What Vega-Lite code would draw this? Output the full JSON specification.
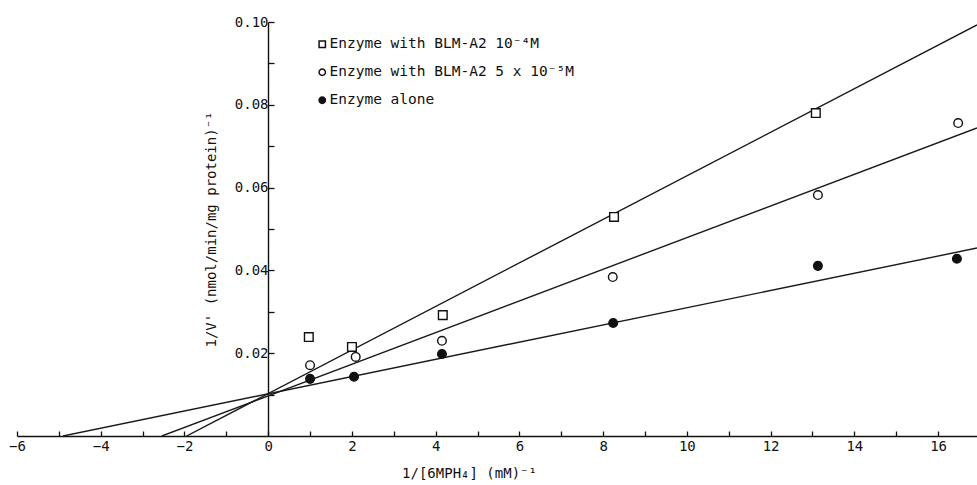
{
  "$schema": "https://vega.github.io/schema/vega-lite/v6.json",
  "width": 960,
  "height": 414,
  "autosize": "none",
  "padding": {"left": 17, "top": 22, "right": 0, "bottom": 49},
  "background": "white",
  "config": {
    "view": {"stroke": null},
    "font": "DejaVu Sans Mono",
    "axis": {"grid": false, "domainColor": "#111", "tickColor": "#111", "labelColor": "#111", "titleColor": "#111", "labelFont": "DejaVu Sans Mono", "titleFont": "DejaVu Sans Mono", "labelFontSize": 14, "titleFontSize": 14, "titleFontWeight": "normal", "domainWidth": 1.4, "tickWidth": 1.3}
  },
  "datasets": {
    "points": [
      {"x": 0.97, "y": 0.0239, "series": "Enzyme with BLM-A2 10⁻⁴M"},
      {"x": 2.0, "y": 0.0215, "series": "Enzyme with BLM-A2 10⁻⁴M"},
      {"x": 4.17, "y": 0.0292, "series": "Enzyme with BLM-A2 10⁻⁴M"},
      {"x": 8.26, "y": 0.0529, "series": "Enzyme with BLM-A2 10⁻⁴M"},
      {"x": 13.08, "y": 0.078, "series": "Enzyme with BLM-A2 10⁻⁴M"},
      {"x": 1.0, "y": 0.0171, "series": "Enzyme with BLM-A2 5 x 10⁻⁵M"},
      {"x": 2.09, "y": 0.0191, "series": "Enzyme with BLM-A2 5 x 10⁻⁵M"},
      {"x": 4.15, "y": 0.023, "series": "Enzyme with BLM-A2 5 x 10⁻⁵M"},
      {"x": 8.23, "y": 0.0384, "series": "Enzyme with BLM-A2 5 x 10⁻⁵M"},
      {"x": 13.13, "y": 0.0582, "series": "Enzyme with BLM-A2 5 x 10⁻⁵M"},
      {"x": 16.48, "y": 0.0756, "series": "Enzyme with BLM-A2 5 x 10⁻⁵M"},
      {"x": 1.0, "y": 0.0138, "series": "Enzyme alone"},
      {"x": 2.05, "y": 0.0143, "series": "Enzyme alone"},
      {"x": 4.15, "y": 0.0198, "series": "Enzyme alone"},
      {"x": 8.24, "y": 0.0273, "series": "Enzyme alone"},
      {"x": 13.13, "y": 0.0411, "series": "Enzyme alone"},
      {"x": 16.45, "y": 0.0428, "series": "Enzyme alone"}
    ],
    "lines": [
      {"x": -1.95, "y": 0.0, "line": "a"},
      {"x": 16.93, "y": 0.0993, "line": "a"},
      {"x": -2.54, "y": 0.0, "line": "b"},
      {"x": 16.93, "y": 0.0744, "line": "b"},
      {"x": -4.9, "y": 0.0, "line": "c"},
      {"x": 16.93, "y": 0.0454, "line": "c"}
    ]
  },
  "layer": [
    {
      "data": {"name": "lines"},
      "mark": {"type": "line", "color": "#1a1a1a", "strokeWidth": 1.4, "clip": true},
      "encoding": {
        "x": {"field": "x", "type": "quantitative", "scale": {"domain": [-6, 16.93], "nice": false, "zero": false},
          "axis": {"values": [-6,-5,-4,-3,-2,-1,0,1,2,3,4,5,6,7,8,9,10,11,12,13,14,15,16],
            "labelExpr": "datum.value % 2 === 0 ? format(datum.value, 'd') : ''",
            "tickSize": -5, "labelPadding": 8, "labelFlush": false,
            "title": "1/[6MPH₄] (mM)⁻¹", "titleX": 452, "titleY": 37, "titleAlign": "center", "titleBaseline": "middle"}},
        "y": {"field": "y", "type": "quantitative", "scale": {"domain": [0, 0.1], "nice": false},
          "axis": {"values": [0.01,0.02,0.03,0.04,0.05,0.06,0.07,0.08,0.09,0.1],
            "labelExpr": "round(datum.value*100) % 2 === 0 ? format(datum.value, '.2f') : ''",
            "offset": -251, "tickSize": -6, "labelPadding": 6, "labelFlush": false,
            "title": "1/V' (nmol/min/mg protein)⁻¹", "titleX": -57, "titleY": 207, "titleAngle": -90, "titleAlign": "center", "titleBaseline": "middle"}},
        "detail": {"field": "line"}
      }
    },
    {
      "data": {"name": "points"},
      "mark": {"type": "point", "filled": true, "stroke": "#111", "strokeWidth": 1.4, "size": 75, "opacity": 1},
      "encoding": {
        "x": {"field": "x", "type": "quantitative"},
        "y": {"field": "y", "type": "quantitative"},
        "shape": {"field": "series", "type": "nominal",
          "scale": {"domain": ["Enzyme with BLM-A2 10⁻⁴M", "Enzyme with BLM-A2 5 x 10⁻⁵M", "Enzyme alone"], "range": ["square", "circle", "circle"]},
          "legend": {"orient": "none", "legendX": 298, "legendY": 15, "title": null, "padding": 0, "labelFontSize": 14.5, "labelFont": "DejaVu Sans Mono", "labelColor": "#111", "labelLimit": 0, "symbolSize": 40, "rowPadding": 13, "labelOffset": 0,
            "encode": {"symbols": {"update": {"stroke": {"value": "#111"}, "strokeWidth": {"value": 1.2}}}}}},
        "fill": {"field": "series", "type": "nominal",
          "scale": {"domain": ["Enzyme with BLM-A2 10⁻⁴M", "Enzyme with BLM-A2 5 x 10⁻⁵M", "Enzyme alone"], "range": ["white", "white", "#111"]},
          "legend": {"orient": "none", "legendX": 298, "legendY": 15, "title": null, "padding": 0, "labelFontSize": 14.5, "labelFont": "DejaVu Sans Mono", "labelColor": "#111", "labelLimit": 0, "symbolSize": 40, "rowPadding": 13, "labelOffset": 0,
            "encode": {"symbols": {"update": {"stroke": {"value": "#111"}, "strokeWidth": {"value": 1.2}}}}}}
      }
    }
  ]
}
